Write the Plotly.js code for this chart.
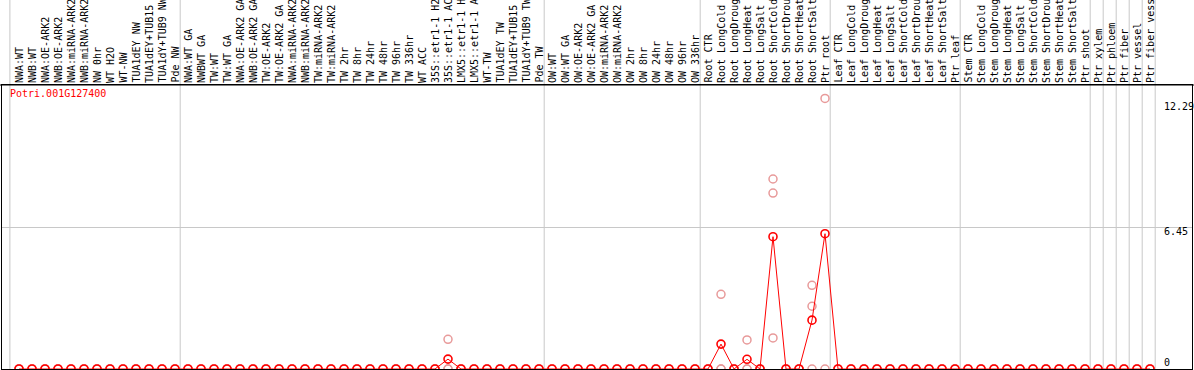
<!DOCTYPE html>
<html>
<head>
<meta charset="utf-8">
<script src="https://cdn.plot.ly/plotly-3.0.1.min.js"></script>
<style>html,body{margin:0;padding:0;background:#fff;}#chart{width:1194px;height:370px;}</style>
</head>
<body>
<div id="chart"></div>
<script>
// ---- data ----
var geneId = "Potri.001G127400";

var labels = [
  "NWA:WT","NWB:WT","NWA:OE-ARK2","NWB:OE-ARK2","NWA:miRNA-ARK2","NWB:miRNA-ARK2","NW 0hr","WT H2O","WT-NW","TUA1dEY NW","TUA1dEY+TUB15","TUA1dY+TUB9 NW","Pde NW",
  "NWA:WT GA","NWBWT GA","TW:WT","TW:WT GA","NWA:OE-ARK2 GA","NWB:OE-ARK2 GA","TW:OE-ARK2","TW:OE-ARK2 GA","NWA:miRNA-ARK2","NWB:miRNA-ARK2","TW:miRNA-ARK2","TW:miRNA-ARK2","TW 2hr","TW 8hr","TW 24hr","TW 48hr","TW 96hr","TW 336hr","WT ACC","35S::etr1-1 H2","35S::etr1-1 AC","LMX5::etr1-1 H","LMX5::etr1-1 A","WT-TW","TUA1dEY TW","TUA1dEY+TUB15","TUA1dY+TUB9 TW","Pde TW",
  "OW:WT","OW:WT GA","OW:OE-ARK2","OW:OE-ARK2 GA","OW:miRNA-ARK2","OW:miRNA-ARK2","OW 2hr","OW 8hr","OW 24hr","OW 48hr","OW 96hr","OW 336hr",
  "Root CTR","Root LongCold","Root LongDroug","Root LongHeat","Root LongSalt","Root ShortCold","Root ShortDrou","Root ShortHeat","Root ShortSalt","Ptr root",
  "Leaf CTR","Leaf LongCold","Leaf LongDroug","Leaf LongHeat","Leaf LongSalt","Leaf ShortCold","Leaf ShortDrou","Leaf ShortHeat","Leaf ShortSalt","Ptr leaf",
  "Stem CTR","Stem LongCold","Stem LongDroug","Stem LongHeat","Stem LongSalt","Stem ShortCold","Stem ShortDrou","Stem ShortHeat","Stem ShortSalt","Ptr shoot",
  "Ptr xylem","Ptr phloem","Ptr fiber","Ptr vessel","Ptr fiber vess"
];

// number of categories in each experiment block (separated by vertical lines)
var groupSizes = [13, 28, 12, 10, 10, 10, 1, 1, 1, 1, 1];

var meanValues = [
  0,0,0,0,0,0,0,0,0,0,0,0,0,
  0,0,0,0,0,0,0,0,0,0,0,0,0,0,0,0,0,0,0,0,0.45,0,0,0,0,0,0,0,
  0,0,0,0,0,0,0,0,0,0,0,0,
  0,1.13,0,0.44,0,6.01,0,0,2.22,6.145,
  0,0,0,0,0,0,0,0,0,0,
  0,0,0,0,0,0,0,0,0,0,
  0,0,0,0,0
];

var rep1 = [
  0,0,0,0,0,0,0,0,0,0,0,0,0,
  0,0,0,0,0,0,0,0,0,0,0,0,0,0,0,0,0,0,0,0,1.35,0,0,0,0,0,0,0,
  0,0,0,0,0,0,0,0,0,0,0,0,
  0,3.39,0,1.32,0,8.63,0,0,3.80,12.29,
  0,0,0,0,0,0,0,0,0,0,
  0,0,0,0,0,0,0,0,0,0,
  0,0,0,0,0
];
var rep2 = [
  0,0,0,0,0,0,0,0,0,0,0,0,0,
  0,0,0,0,0,0,0,0,0,0,0,0,0,0,0,0,0,0,0,0,0,0,0,0,0,0,0,0,
  0,0,0,0,0,0,0,0,0,0,0,0,
  0,0,0,0,0,7.99,0,0,2.85,0,
  0,0,0,0,0,0,0,0,0,0,
  0,0,0,0,0,0,0,0,0,0,
  0,0,0,0,0
];
var rep3 = [
  0,0,0,0,0,0,0,0,0,0,0,0,0,
  0,0,0,0,0,0,0,0,0,0,0,0,0,0,0,0,0,0,0,0,0,0,0,0,0,0,0,0,
  0,0,0,0,0,0,0,0,0,0,0,0,
  0,0,0,0,0,1.41,0,0,0,null,
  0,0,0,0,0,0,0,0,0,0,
  0,0,0,0,0,0,0,0,0,0,
  0,0,0,0,0
];

var yTickVals = [12.29, 6.45, 0];
var yTickText = ["12.29", "6.45", "0"];
var yMax = 12.9;

// ---- chart ----
var xs = labels.map(function (_, i) { return i; });
var mono = "DejaVu Sans Mono, monospace";
var pink = "#e89a9a";
var red = "#ff0000";

function repTrace(vals) {
  return {
    x: xs, y: vals, type: "scatter", mode: "markers", hoverinfo: "skip",
    marker: { symbol: "circle-open", size: 8, color: pink, line: { width: 1.5, color: pink } },
    showlegend: false
  };
}

var traces = [
  repTrace(rep1), repTrace(rep2), repTrace(rep3),
  {
    x: xs, y: meanValues, type: "scatter", mode: "lines+markers",
    line: { color: red, width: 1 },
    marker: { symbol: "circle-open", size: 8, color: red, line: { width: 1.6, color: red } },
    showlegend: false
  }
];

var annotations = [];
labels.forEach(function (t, i) {
  annotations.push({
    x: i, xref: "x", y: 1, yref: "paper", yanchor: "bottom", xanchor: "center",
    yshift: 1, text: t, textangle: -90, showarrow: false, borderpad: 0,
    font: { family: mono, size: 10, color: "#000" }
  });
});
var tickShift = [-8, -4, 7];
yTickVals.forEach(function (v, k) {
  annotations.push({
    x: 0.9756, xref: "paper", xanchor: "left", y: v, yref: "y", yanchor: "middle",
    yshift: tickShift[k], text: yTickText[k], showarrow: false, borderpad: 0,
    font: { family: mono, size: 10, color: "#000" }
  });
});
annotations.push({
  x: 0.0059, xref: "paper", xanchor: "left", y: 0.9718, yref: "paper", yanchor: "middle",
  text: geneId, showarrow: false, borderpad: 0,
  font: { family: mono, size: 10, color: red }
});

var shapes = [];
var pos = -1;
shapes.push({ type: "line", xref: "x", yref: "paper", x0: -0.7, x1: -0.7, y0: 0, y1: 1.31,
  line: { color: "#c8c8c8", width: 1 }, layer: "below" });
groupSizes.forEach(function (n) {
  pos += n;
  shapes.push({ type: "line", xref: "x", yref: "paper", x0: pos + 0.4, x1: pos + 0.4, y0: 0, y1: 1.31,
    line: { color: "#c8c8c8", width: 1 }, layer: "below" });
});
shapes.push({ type: "line", xref: "paper", yref: "paper", x0: -0.01, x1: 1.01, y0: 1, y1: 1,
  line: { color: "#000", width: 1 } });

var layout = {
  width: 1194, height: 370,
  margin: { l: 2, r: 2, t: 85, b: 1, pad: 0 },
  paper_bgcolor: "#fff", plot_bgcolor: "#fff",
  showlegend: false,
  xaxis: {
    range: [-17 / 13, -17 / 13 + 1190 / 13],
    showgrid: false, zeroline: false, showticklabels: false, ticks: "",
    showline: true, mirror: true, linecolor: "#000", linewidth: 1
  },
  yaxis: {
    range: [0, yMax],
    tickvals: [6.45], showticklabels: false, ticks: "",
    showgrid: true, gridcolor: "#c8c8c8", gridwidth: 1, zeroline: false,
    showline: true, mirror: true, linecolor: "#000", linewidth: 1
  },
  annotations: annotations,
  shapes: shapes
};

Plotly.newPlot("chart", traces, layout, { staticPlot: true, displayModeBar: false });
</script>
</body>
</html>
